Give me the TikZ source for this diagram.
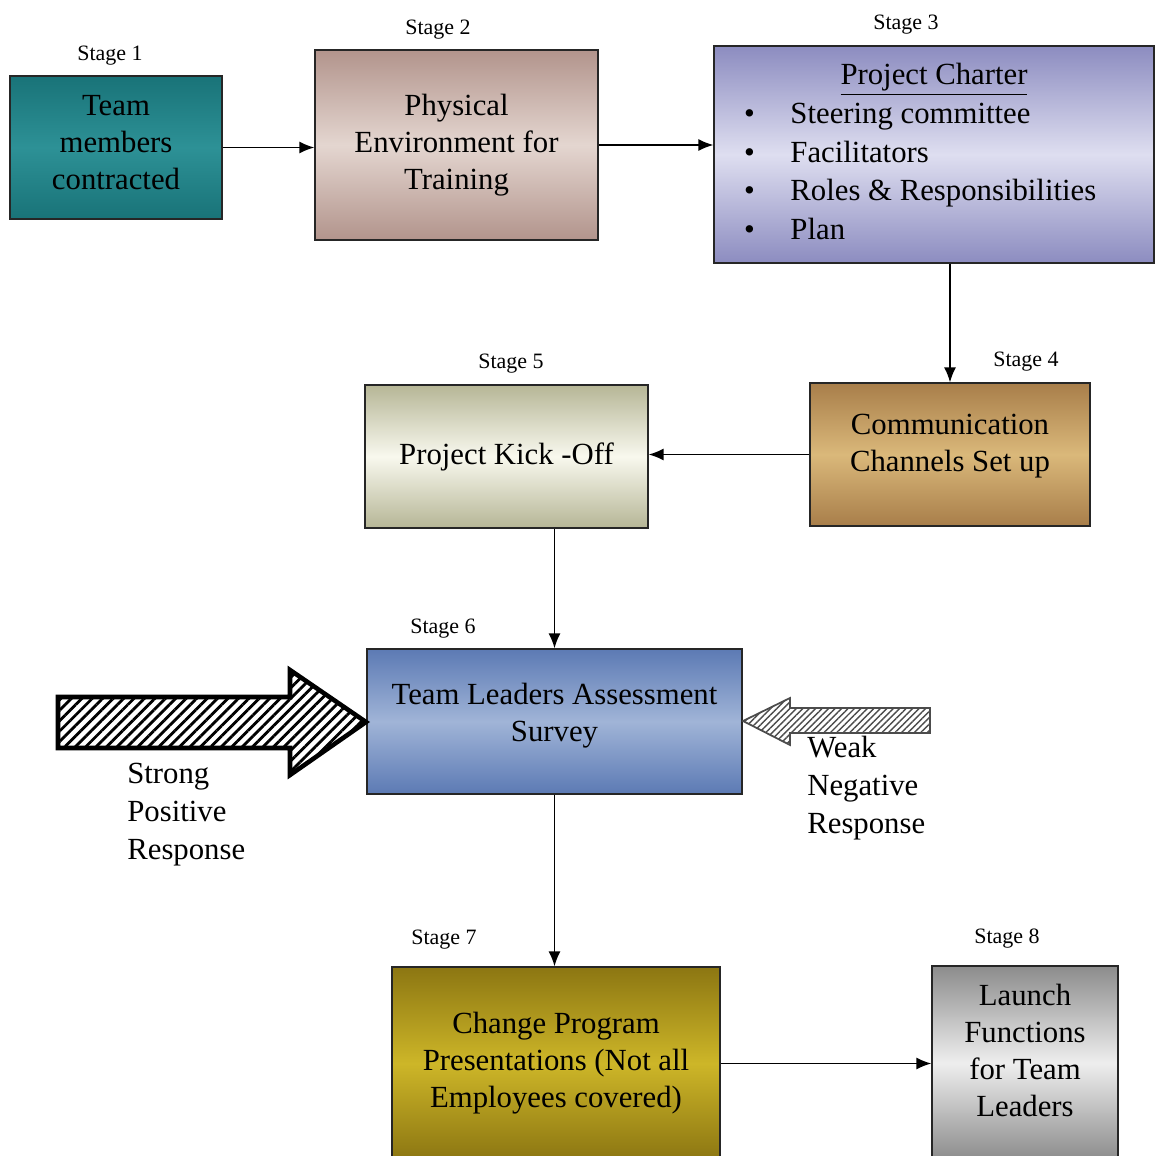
\documentclass[tikz,border=0pt]{standalone}
\usepackage{fontspec}
\setmainfont{Liberation Serif}
\usetikzlibrary{arrows.meta,patterns.meta}

\definecolor{tealTop}{RGB}{25,115,120}
\definecolor{tealMid}{RGB}{45,145,150}
\definecolor{roseEdge}{RGB}{178,148,140}
\definecolor{roseMid}{RGB}{228,214,208}
\definecolor{lilacEdge}{RGB}{140,140,192}
\definecolor{lilacMid}{RGB}{222,222,240}
\definecolor{ochreEdge}{RGB}{168,126,74}
\definecolor{ochreMid}{RGB}{218,184,122}
\definecolor{creamEdge}{RGB}{182,182,150}
\definecolor{creamMid}{RGB}{248,248,238}
\definecolor{skyEdge}{RGB}{92,122,180}
\definecolor{skyMid}{RGB}{160,180,215}
\definecolor{oliveEdge}{RGB}{140,118,18}
\definecolor{oliveMid}{RGB}{205,182,40}
\definecolor{greyEdge}{RGB}{140,140,140}
\definecolor{greyMid}{RGB}{238,238,238}

\begin{document}
\begin{tikzpicture}[x=0.02cm,y=-0.02cm,>={Latex[length=3mm,width=2.4mm]},
  stagebox/.style={draw=black!85,line width=0.8pt,align=center,inner sep=0pt,
    font=\fontsize{17.5}{21}\selectfont},
  stagelabel/.style={inner sep=0pt,font=\fontsize{12.5}{15}\selectfont},
  flow/.style={->,line width=0.8pt},
  resp/.style={align=left,anchor=north west,inner sep=0pt,font=\fontsize{17.5}{21.5}\selectfont}]

\useasboundingbox (0,0) rectangle (1154,1156);

\node[stagebox,minimum width=4.24cm,minimum height=2.86cm,top color=tealTop,bottom color=tealTop,middle color=tealMid,
  text depth=5.5pt]
  (s1) at (116,147.5) {Team\\members\\contracted};
\node[stagebox,minimum width=5.66cm,minimum height=3.8cm,top color=roseEdge,bottom color=roseEdge,middle color=roseMid]
  (s2) at (456.5,145) {Physical\\Environment for\\Training};
\node[stagebox,minimum width=8.8cm,minimum height=4.34cm,top color=lilacEdge,bottom color=lilacEdge,middle color=lilacMid,
  font=\fontsize{17.5}{22}\selectfont]
  (s3) at (934,154.5) {\begin{tabular}{@{}l@{\hspace{0.71cm}}l@{\hspace{0.55cm}}}
    \multicolumn{2}{c}{\underline{Project Charter}}\\
    \textbullet & Steering committee\\
    \textbullet & Facilitators\\
    \textbullet & Roles \& Responsibilities\\
    \textbullet & Plan
  \end{tabular}};
\node[stagebox,minimum width=5.6cm,minimum height=2.86cm,top color=ochreEdge,bottom color=ochreEdge,middle color=ochreMid,
  text depth=12.8pt]
  (s4) at (950,454.5) {Communication\\Channels Set up};
\node[stagebox,minimum width=5.66cm,minimum height=2.86cm,top color=creamEdge,bottom color=creamEdge,middle color=creamMid]
  (s5) at (506.5,456.5) {Project Kick -Off};
\node[stagebox,minimum width=7.5cm,minimum height=2.9cm,top color=skyEdge,bottom color=skyEdge,middle color=skyMid,
  text depth=10.6pt]
  (s6) at (554.5,721.5) {Team Leaders Assessment\\Survey};
\node[stagebox,minimum width=6.56cm,minimum height=3.86cm,top color=oliveEdge,bottom color=oliveEdge,middle color=oliveMid]
  (s7) at (556,1063.5) {Change Program\\Presentations (Not all\\Employees covered)};
\node[stagebox,minimum width=3.72cm,minimum height=3.88cm,top color=greyEdge,bottom color=greyEdge,middle color=greyMid,
  text depth=14.8pt]
  (s8) at (1025,1063) {Launch\\Functions\\for Team\\Leaders};

\node[stagelabel] (l1) at (110,56) {Stage 1};
\node[stagelabel] (l2) at (438,30) {Stage 2};
\node[stagelabel] (l3) at (906,25) {Stage 3};
\node[stagelabel] (l4) at (1026,362) {Stage 4};
\node[stagelabel] (l5) at (511,364) {Stage 5};
\node[stagelabel] (l6) at (443,629) {Stage 6};
\node[stagelabel] (l7) at (444,940) {Stage 7};
\node[stagelabel] (l8) at (1007,939) {Stage 8};

\draw[flow] (s1.east) -- (s1.east -| s2.west);
\draw[flow] (s2.east) -- (s2.east -| s3.west);
\draw[flow] (s4.north |- s3.south) -- (s4.north);
\draw[flow] (s4.west) -- (s4.west -| s5.east);
\draw[flow] (s6.north |- s5.south) -- (s6.north);
\draw[flow] (s6.south) -- (s6.south |- s7.north);
\draw[flow] (s7.east) -- (s7.east -| s8.west);

\draw[line width=2.6pt,fill=white,postaction={pattern={Lines[angle=45,distance=4.2pt,line width=1.6pt]}}]
  (58,697) -- (290,697) -- (290,670) -- (366,722) -- (290,775) -- (290,748) -- (58,748) -- cycle;
\draw[line width=1pt,draw=black!70,fill=white,postaction={pattern={Lines[angle=45,distance=2.6pt,line width=0.8pt]},pattern color=black!70}]
  (930,708) -- (790,708) -- (790,698) -- (743,721) -- (790,745) -- (790,733) -- (930,733) -- cycle;

\node[resp] (pos) at (127,763) {Strong\\Positive\\Response};
\node[resp] (neg) at (807,736) {Weak\\Negative\\Response};

\end{tikzpicture}
\end{document}
